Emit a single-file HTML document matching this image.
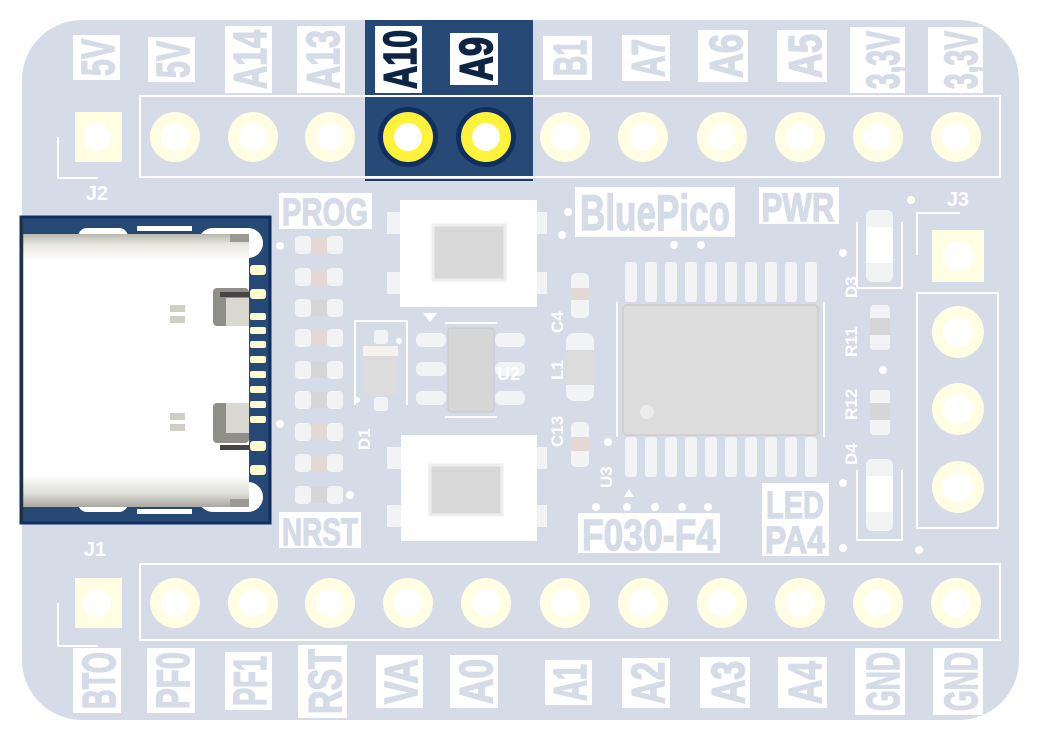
<!DOCTYPE html>
<html><head><meta charset="utf-8"><style>
html,body{margin:0;padding:0;background:#fff;}
svg{display:block}
text{font-family:"Liberation Sans Narrow","Liberation Sans",sans-serif;font-weight:bold}
</style></head><body>
<svg width="1041" height="742" viewBox="0 0 1041 742" xmlns="http://www.w3.org/2000/svg">
<defs>
<linearGradient id="usb" x1="0" y1="0" x2="0" y2="1">
<stop offset="0" stop-color="#b8b8ae"/><stop offset="0.04" stop-color="#e8e8e0"/><stop offset="0.1" stop-color="#fff"/><stop offset="0.88" stop-color="#fff"/><stop offset="0.95" stop-color="#e0e0d8"/><stop offset="1" stop-color="#a8a8a0"/>
</linearGradient>
</defs>
<rect x="22" y="20" width="997" height="700" rx="60" fill="#d5dce8"/>
<rect x="365" y="20" width="168" height="158" fill="#264a75"/>
<rect x="21" y="217" width="249" height="306" fill="#264a75"/>
<rect x="21" y="217" width="249" height="306" fill="none" stroke="#102e60" stroke-width="3"/>
<line x1="365" y1="180" x2="533" y2="180" stroke="#1a3a6a" stroke-width="2"/>

<rect x="140" y="96" width="860" height="81" fill="none" stroke="#fff" stroke-width="2"/>
<rect x="140" y="564" width="860" height="76" fill="none" stroke="#fff" stroke-width="2"/>
<polyline points="98,178 58,178 58,137" fill="none" stroke="#fff" stroke-width="2"/>
<polyline points="98,646 58,646 58,603" fill="none" stroke="#fff" stroke-width="2"/>
<text x="97" y="200" font-size="20" fill="#fff" text-anchor="middle" font-family="Liberation Sans">J2</text>
<text x="95" y="556" font-size="20" fill="#fff" text-anchor="middle" font-family="Liberation Sans">J1</text>
<text x="958" y="206" font-size="20" fill="#fff" text-anchor="middle" font-family="Liberation Sans">J3</text>

<rect x="75" y="112" width="47" height="50" fill="#fffde2"/><circle cx="97" cy="137" r="14" fill="#fff"/>
<g fill="#fffde2">
<circle cx="175" cy="137" r="25"/><circle cx="253" cy="137" r="25"/><circle cx="330" cy="137" r="25"/>
<circle cx="565" cy="137" r="25"/><circle cx="643" cy="137" r="25"/><circle cx="722" cy="137" r="25"/><circle cx="800" cy="137" r="25"/><circle cx="878" cy="137" r="25"/><circle cx="956" cy="137" r="25"/>
</g>
<circle cx="408" cy="137" r="30" fill="#102e60"/><circle cx="486" cy="137" r="30" fill="#102e60"/>
<circle cx="408" cy="137" r="25" fill="#fff23a"/><circle cx="486" cy="137" r="25" fill="#fff23a"/>
<g fill="#fff">
<circle cx="175" cy="137" r="14"/><circle cx="253" cy="137" r="14"/><circle cx="330" cy="137" r="14"/><circle cx="408" cy="137" r="14"/><circle cx="486" cy="137" r="14"/>
<circle cx="565" cy="137" r="14"/><circle cx="643" cy="137" r="14"/><circle cx="722" cy="137" r="14"/><circle cx="800" cy="137" r="14"/><circle cx="878" cy="137" r="14"/><circle cx="956" cy="137" r="14"/>
</g>
<rect x="75" y="578" width="47" height="50" fill="#fffde2"/><circle cx="97" cy="603" r="14" fill="#fff"/>
<g fill="#fffde2">
<circle cx="175" cy="603" r="25"/><circle cx="253" cy="603" r="25"/><circle cx="330" cy="603" r="25"/><circle cx="408" cy="603" r="25"/><circle cx="486" cy="603" r="25"/>
<circle cx="565" cy="603" r="25"/><circle cx="643" cy="603" r="25"/><circle cx="722" cy="603" r="25"/><circle cx="800" cy="603" r="25"/><circle cx="878" cy="603" r="25"/><circle cx="956" cy="603" r="25"/>
</g>
<g fill="#fff">
<circle cx="175" cy="603" r="14"/><circle cx="253" cy="603" r="14"/><circle cx="330" cy="603" r="14"/><circle cx="408" cy="603" r="14"/><circle cx="486" cy="603" r="14"/>
<circle cx="565" cy="603" r="14"/><circle cx="643" cy="603" r="14"/><circle cx="722" cy="603" r="14"/><circle cx="800" cy="603" r="14"/><circle cx="878" cy="603" r="14"/><circle cx="956" cy="603" r="14"/>
</g>
<rect x="932" y="230" width="52" height="52" fill="#fffde2"/><circle cx="958" cy="256" r="15" fill="#fff"/>
<rect x="917" y="293" width="81" height="235" fill="none" stroke="#fff" stroke-width="2"/>
<g fill="#fffde2"><circle cx="958" cy="332" r="26"/><circle cx="958" cy="409" r="26"/><circle cx="958" cy="487" r="26"/></g>
<g fill="#fff"><circle cx="958" cy="332" r="15"/><circle cx="958" cy="409" r="15"/><circle cx="958" cy="487" r="15"/></g>
<polyline points="960,213 917,213 917,255" fill="none" stroke="#fff" stroke-width="2"/>

<g fill="#fff">
<rect x="73" y="35" width="47" height="45"/><rect x="148" y="37" width="47" height="45"/><rect x="225" y="26" width="47" height="67"/><rect x="297" y="26" width="48" height="67"/>
<rect x="375" y="26" width="47" height="67"/><rect x="450" y="33" width="48" height="52"/>
<rect x="543" y="36" width="49" height="44"/><rect x="622" y="35" width="48" height="46"/><rect x="698" y="30" width="50" height="52"/><rect x="777" y="30" width="50" height="52"/><rect x="850" y="27" width="55" height="66"/><rect x="928" y="27" width="55" height="66"/>
</g>
<g font-size="46" fill="#d5dce8" stroke="#d5dce8" stroke-width="1.6">
<text transform="translate(114,76) rotate(-90)" textLength="37" lengthAdjust="spacingAndGlyphs">5V</text>
<text transform="translate(189,78) rotate(-90)" textLength="37" lengthAdjust="spacingAndGlyphs">5V</text>
<text transform="translate(266,89) rotate(-90)" textLength="59" lengthAdjust="spacingAndGlyphs">A14</text>
<text transform="translate(339,89) rotate(-90)" textLength="59" lengthAdjust="spacingAndGlyphs">A13</text>
<text transform="translate(416,89) rotate(-90)" textLength="59" lengthAdjust="spacingAndGlyphs" fill="#0d2545" stroke="#0d2545">A10</text>
<text transform="translate(492,81) rotate(-90)" textLength="44" lengthAdjust="spacingAndGlyphs" fill="#0d2545" stroke="#0d2545">A9</text>
<text transform="translate(586,76) rotate(-90)" textLength="36" lengthAdjust="spacingAndGlyphs">B1</text>
<text transform="translate(664,77) rotate(-90)" textLength="38" lengthAdjust="spacingAndGlyphs">A7</text>
<text transform="translate(742,78) rotate(-90)" textLength="44" lengthAdjust="spacingAndGlyphs">A6</text>
<text transform="translate(821,78) rotate(-90)" textLength="44" lengthAdjust="spacingAndGlyphs">A5</text>
<text transform="translate(899,89) rotate(-90)" textLength="58" lengthAdjust="spacingAndGlyphs">3,3V</text>
<text transform="translate(977,89) rotate(-90)" textLength="58" lengthAdjust="spacingAndGlyphs">3,3V</text>
</g>
<g fill="#fff">
<rect x="73" y="648" width="48" height="65"/><rect x="147" y="648" width="48" height="65"/><rect x="225" y="652" width="47" height="58"/><rect x="298" y="645" width="49" height="73"/>
<rect x="376" y="655" width="47" height="53"/><rect x="450" y="655" width="48" height="53"/><rect x="545" y="660" width="47" height="45"/><rect x="622" y="658" width="48" height="50"/>
<rect x="700" y="657" width="50" height="51"/><rect x="778" y="657" width="49" height="51"/><rect x="855" y="648" width="50" height="67"/><rect x="933" y="648" width="50" height="67"/>
</g>
<g font-size="46" fill="#d5dce8" stroke="#d5dce8" stroke-width="1.6">
<text transform="translate(115,709) rotate(-90)" textLength="57" lengthAdjust="spacingAndGlyphs">BTO</text>
<text transform="translate(189,709) rotate(-90)" textLength="57" lengthAdjust="spacingAndGlyphs">PF0</text>
<text transform="translate(266,706) rotate(-90)" textLength="50" lengthAdjust="spacingAndGlyphs">PF1</text>
<text transform="translate(341,714) rotate(-90)" textLength="65" lengthAdjust="spacingAndGlyphs">RST</text>
<text transform="translate(417,704) rotate(-90)" textLength="45" lengthAdjust="spacingAndGlyphs">VA</text>
<text transform="translate(492,704) rotate(-90)" textLength="45" lengthAdjust="spacingAndGlyphs">A0</text>
<text transform="translate(586,701) rotate(-90)" textLength="37" lengthAdjust="spacingAndGlyphs">A1</text>
<text transform="translate(664,704) rotate(-90)" textLength="42" lengthAdjust="spacingAndGlyphs">A2</text>
<text transform="translate(744,704) rotate(-90)" textLength="43" lengthAdjust="spacingAndGlyphs">A3</text>
<text transform="translate(821,704) rotate(-90)" textLength="43" lengthAdjust="spacingAndGlyphs">A4</text>
<text transform="translate(899,711) rotate(-90)" textLength="59" lengthAdjust="spacingAndGlyphs">GND</text>
<text transform="translate(977,711) rotate(-90)" textLength="59" lengthAdjust="spacingAndGlyphs">GND</text>
</g>

<g fill="#fff" stroke="none">
<rect x="78" y="228" width="50" height="18" rx="9"/><rect x="198" y="228" width="65" height="30" rx="15"/>
<rect x="78" y="494" width="50" height="18" rx="9"/><rect x="198" y="482" width="65" height="30" rx="15"/>
<rect x="137" y="226" width="55" height="5"/><rect x="137" y="509" width="55" height="5"/>
</g>
<g fill="#fffbd0">
<rect x="250" y="265" width="16" height="10" rx="3"/><rect x="250" y="289" width="16" height="10" rx="3"/><rect x="250" y="313" width="16" height="7" rx="2"/><rect x="250" y="327" width="16" height="7" rx="2"/><rect x="250" y="341" width="16" height="7" rx="2"/><rect x="250" y="356" width="16" height="7" rx="2"/><rect x="250" y="371" width="16" height="7" rx="2"/><rect x="250" y="386" width="16" height="7" rx="2"/><rect x="250" y="401" width="16" height="7" rx="2"/><rect x="250" y="416" width="16" height="7" rx="2"/><rect x="250" y="441" width="16" height="10" rx="3"/><rect x="250" y="465" width="16" height="10" rx="3"/>
</g>
<rect x="22" y="234" width="227" height="273" fill="url(#usb)"/>
<line x1="22.5" y1="222" x2="22.5" y2="522" stroke="#333" stroke-width="1.5"/>
<rect x="213" y="288" width="36" height="38" rx="4" fill="#908e88"/>
<rect x="226" y="298" width="23" height="28" fill="#d8d8d0"/>
<rect x="220" y="292" width="29" height="5" fill="#444"/>
<rect x="213" y="403" width="36" height="40" rx="4" fill="#908e88"/>
<rect x="226" y="403" width="23" height="30" fill="#d8d8d0"/>
<rect x="220" y="445" width="29" height="5" fill="#444"/>
<rect x="230" y="234" width="19" height="8" fill="#9c9a94"/><rect x="230" y="499" width="19" height="8" fill="#9c9a94"/>
<g fill="#cfcfc5"><rect x="170" y="305" width="15" height="7"/><rect x="170" y="316" width="15" height="7"/><rect x="170" y="413" width="15" height="7"/><rect x="170" y="424" width="15" height="7"/></g>

<g fill="#d5dce8" stroke="#d5dce8" stroke-width="1.4">
<rect x="279" y="193" width="93" height="36" fill="#fff" stroke="none"/>
<text x="325" y="225" font-size="38" text-anchor="middle" textLength="86" lengthAdjust="spacingAndGlyphs">PROG</text>
<rect x="279" y="512" width="82" height="36" fill="#fff" stroke="none"/>
<text x="320" y="545" font-size="38" text-anchor="middle" textLength="76" lengthAdjust="spacingAndGlyphs">NRST</text>
<rect x="575" y="187" width="160" height="50" fill="#fff" stroke="none"/>
<text x="655" y="230" font-size="50" text-anchor="middle" textLength="150" lengthAdjust="spacingAndGlyphs">BluePico</text>
<rect x="759" y="187" width="80" height="37" fill="#fff" stroke="none"/>
<text x="798" y="221" font-size="40" text-anchor="middle" textLength="73" lengthAdjust="spacingAndGlyphs">PWR</text>
<rect x="578" y="513" width="142" height="40" fill="#fff" stroke="none"/>
<text x="649" y="550" font-size="44" text-anchor="middle" textLength="134" lengthAdjust="spacingAndGlyphs">F030-F4</text>
<rect x="762" y="483" width="67" height="73" fill="#fff" stroke="none"/>
<text x="795" y="518" font-size="38" text-anchor="middle" textLength="58" lengthAdjust="spacingAndGlyphs">LED</text>
<text x="795" y="553" font-size="38" text-anchor="middle" textLength="60" lengthAdjust="spacingAndGlyphs">PA4</text>
</g>

<g fill="#f2f3f5">
<rect x="295" y="236" width="16" height="18" rx="4"/><rect x="327" y="236" width="16" height="18" rx="4"/>
<rect x="295" y="268" width="16" height="18" rx="4"/><rect x="327" y="268" width="16" height="18" rx="4"/>
<rect x="295" y="299" width="16" height="18" rx="4"/><rect x="327" y="299" width="16" height="18" rx="4"/>
<rect x="295" y="329" width="16" height="18" rx="4"/><rect x="327" y="329" width="16" height="18" rx="4"/>
<rect x="295" y="361" width="16" height="18" rx="4"/><rect x="327" y="361" width="16" height="18" rx="4"/>
<rect x="295" y="391" width="16" height="18" rx="4"/><rect x="327" y="391" width="16" height="18" rx="4"/>
<rect x="295" y="423" width="16" height="18" rx="4"/><rect x="327" y="423" width="16" height="18" rx="4"/>
<rect x="295" y="454" width="16" height="18" rx="4"/><rect x="327" y="454" width="16" height="18" rx="4"/>
<rect x="295" y="486" width="16" height="18" rx="4"/><rect x="327" y="486" width="16" height="18" rx="4"/>
</g>
<rect x="311" y="237" width="16" height="16" fill="#e3d8d4"/><rect x="311" y="269" width="16" height="16" fill="#e3d8d4"/><rect x="311" y="300" width="16" height="16" fill="#d6d6d6"/><rect x="311" y="330" width="16" height="16" fill="#e3d8d4"/><rect x="311" y="362" width="16" height="16" fill="#d6d6d6"/><rect x="311" y="392" width="16" height="16" fill="#d6d6d6"/><rect x="311" y="424" width="16" height="16" fill="#e3d8d4"/><rect x="311" y="455" width="16" height="16" fill="#e3d8d4"/><rect x="311" y="487" width="16" height="16" fill="#d6d6d6"/>
<g fill="#fff"><circle cx="280" cy="246" r="4"/><circle cx="280" cy="424" r="4"/><circle cx="350" cy="495" r="4"/></g>

<rect x="387" y="212" width="14" height="22" fill="#f2f3f5"/><rect x="387" y="272" width="14" height="22" fill="#f2f3f5"/>
<rect x="535" y="212" width="12" height="22" fill="#f2f3f5"/><rect x="535" y="272" width="12" height="22" fill="#f2f3f5"/>
<rect x="400" y="200" width="137" height="107" fill="#fff"/>
<rect x="433" y="225" width="72" height="55" fill="#d9d9d9" stroke="#eee" stroke-width="3"/>
<rect x="387" y="447" width="14" height="22" fill="#f2f3f5"/><rect x="387" y="505" width="14" height="22" fill="#f2f3f5"/>
<rect x="535" y="447" width="12" height="22" fill="#f2f3f5"/><rect x="535" y="505" width="12" height="22" fill="#f2f3f5"/>
<rect x="401" y="435" width="136" height="106" fill="#fff"/>
<rect x="430" y="465" width="72" height="50" fill="#d9d9d9" stroke="#eee" stroke-width="3"/>

<polyline points="355,405 355,321 407,321 407,405" fill="none" stroke="#fff" stroke-width="2"/>
<rect x="374" y="330" width="14" height="14" rx="3" fill="#f2f3f5"/><rect x="374" y="397" width="14" height="14" rx="3" fill="#f2f3f5"/>
<rect x="363" y="346" width="35" height="50" fill="#dcdcdc"/><rect x="363" y="346" width="35" height="10" fill="#f4f2ea"/>
<text transform="translate(370,450) rotate(-90)" font-size="17" fill="#fff" font-family="Liberation Sans">D1</text>
<polygon points="423,313 437,313 430,322" fill="#fff"/>
<line x1="445" y1="323" x2="497" y2="323" stroke="#fff" stroke-width="2"/><line x1="445" y1="417" x2="497" y2="417" stroke="#fff" stroke-width="2"/>
<g fill="#f2f3f5">
<rect x="416" y="333" width="30" height="14" rx="6"/><rect x="416" y="362" width="30" height="14" rx="6"/><rect x="416" y="391" width="30" height="14" rx="6"/>
<rect x="495" y="333" width="30" height="14" rx="6"/><rect x="495" y="362" width="30" height="14" rx="6"/><rect x="495" y="391" width="30" height="14" rx="6"/>
</g>
<rect x="448" y="328" width="46" height="84" rx="3" fill="#d6d6d6" stroke="#c8c8c8"/>
<text x="497" y="380" font-size="18" fill="#fff" font-family="Liberation Sans">U2</text>
<rect x="571" y="273" width="18" height="45" rx="5" fill="#f2f3f5"/><rect x="571" y="288" width="18" height="12" fill="#e3d8d4"/>
<rect x="566" y="333" width="28" height="68" rx="8" fill="#f2f3f5"/><rect x="566" y="350" width="28" height="35" fill="#dcdcdc"/>
<rect x="571" y="422" width="18" height="45" rx="5" fill="#f2f3f5"/><rect x="571" y="437" width="18" height="14" fill="#e3d8d4"/>
<g font-size="17" fill="#fff" font-family="Liberation Sans">
<text transform="translate(563,333) rotate(-90)">C4</text>
<text transform="translate(563,380) rotate(-90)">L1</text>
<text transform="translate(563,447) rotate(-90)">C13</text>
<text transform="translate(612,488) rotate(-90)">U3</text>
<text transform="translate(857,298) rotate(-90)">D3</text>
<text transform="translate(857,357) rotate(-90)">R11</text>
<text transform="translate(857,420) rotate(-90)">R12</text>
<text transform="translate(857,465) rotate(-90)">D4</text>
</g>
<g fill="#f2f3f5">
<rect x="625" y="262" width="12" height="40" rx="3"/><rect x="645" y="262" width="12" height="40" rx="3"/><rect x="665" y="262" width="12" height="40" rx="3"/><rect x="685" y="262" width="12" height="40" rx="3"/><rect x="705" y="262" width="12" height="40" rx="3"/><rect x="725" y="262" width="12" height="40" rx="3"/><rect x="745" y="262" width="12" height="40" rx="3"/><rect x="765" y="262" width="12" height="40" rx="3"/><rect x="785" y="262" width="12" height="40" rx="3"/><rect x="805" y="262" width="12" height="40" rx="3"/>
<rect x="625" y="437" width="12" height="40" rx="3"/><rect x="645" y="437" width="12" height="40" rx="3"/><rect x="665" y="437" width="12" height="40" rx="3"/><rect x="685" y="437" width="12" height="40" rx="3"/><rect x="705" y="437" width="12" height="40" rx="3"/><rect x="725" y="437" width="12" height="40" rx="3"/><rect x="745" y="437" width="12" height="40" rx="3"/><rect x="765" y="437" width="12" height="40" rx="3"/><rect x="785" y="437" width="12" height="40" rx="3"/><rect x="805" y="437" width="12" height="40" rx="3"/>
</g>
<line x1="617" y1="302" x2="617" y2="437" stroke="#fff" stroke-width="2"/><line x1="824" y1="302" x2="824" y2="437" stroke="#fff" stroke-width="2"/>
<rect x="623" y="305" width="195" height="130" rx="4" fill="#dddddd" stroke="#d0d0d0" stroke-width="2"/>
<circle cx="647" cy="412" r="7" fill="#ececec"/>
<polygon points="624,497 634,497 629,489" fill="#fff"/>
<g fill="#fff"><circle cx="596" cy="507" r="4"/><circle cx="627" cy="507" r="4"/><circle cx="655" cy="507" r="4"/><circle cx="682" cy="507" r="4"/><circle cx="708" cy="507" r="4"/><circle cx="608" cy="442" r="4"/><circle cx="674" cy="245" r="4"/><circle cx="701" cy="245" r="4"/><circle cx="568" cy="212" r="4"/><circle cx="562" cy="235" r="4"/><circle cx="843" cy="253" r="4"/><circle cx="883" cy="370" r="4"/><circle cx="843" cy="483" r="4"/><circle cx="843" cy="548" r="4"/><circle cx="919" cy="550" r="4"/><circle cx="911" cy="200" r="4"/><circle cx="399" cy="341" r="3"/><circle cx="357" cy="400" r="3"/></g>
<polyline points="857,222 857,288 902,288 902,222" fill="none" stroke="#fff" stroke-width="2"/>
<rect x="866" y="210" width="27" height="72" rx="6" fill="#f2f3f5"/><rect x="866" y="227" width="27" height="36" fill="#fff"/>
<polyline points="857,470 857,540 902,540 902,470" fill="none" stroke="#fff" stroke-width="2"/>
<rect x="866" y="459" width="27" height="72" rx="6" fill="#f2f3f5"/><rect x="866" y="476" width="27" height="36" fill="#fff"/>
<rect x="870" y="305" width="20" height="45" rx="4" fill="#f2f3f5"/><rect x="870" y="318" width="20" height="17" fill="#d6d6d6"/>
<rect x="870" y="390" width="20" height="45" rx="4" fill="#f2f3f5"/><rect x="870" y="403" width="20" height="17" fill="#d6d6d6"/>
</svg>
</body></html>
